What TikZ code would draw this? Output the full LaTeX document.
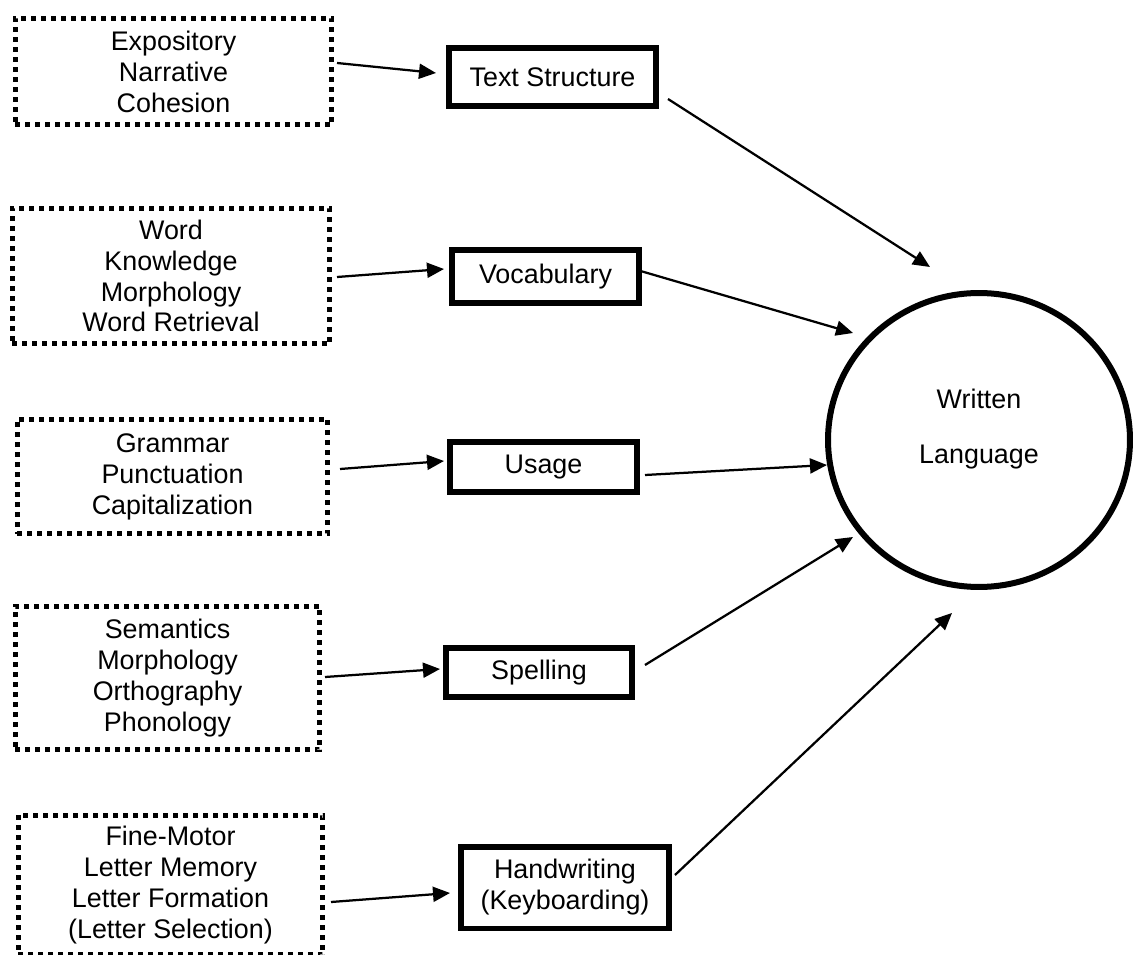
\documentclass[tikz,border=0pt]{standalone}
\usepackage{fontspec}
\setmainfont{Liberation Sans}
\usetikzlibrary{arrows.meta,calc,shapes.geometric}
\begin{document}
\begin{tikzpicture}[x=0.02cm,y=-0.02cm,
  txt/.style={font=\fontsize{15.3}{17.6}\selectfont, align=center, inner sep=0pt},
  dotbox/.style={txt, draw, line width=0.1cm, dash pattern=on 0.1cm off 0.1cm},
  solidbox/.style={txt, draw, line width=0.12cm},
  arr/.style={line width=0.045cm, -{Triangle[length=0.34cm,width=0.3cm]}}]
\useasboundingbox (0,0) rectangle (1138,955);
% source boxes
\node[dotbox, minimum width=6.34cm, minimum height=2.14cm] (d1) at (173.5,71.5) {Expository\\Narrative\\Cohesion};
\node[dotbox, minimum width=6.36cm, minimum height=2.72cm] (d2) at (171,276) {Word\\Knowledge\\Morphology\\Word Retrieval};
\node[dotbox, minimum width=6.22cm, minimum height=2.30cm] (d3) at (172.5,476.5) {Grammar\\Punctuation\\Capitalization};
\node[dotbox, minimum width=6.10cm, minimum height=2.88cm] (d4) at (167.5,678) {Semantics\\Morphology\\Orthography\\Phonology};
\node[dotbox, minimum width=6.10cm, minimum height=2.80cm] (d5) at (170.5,885) {Fine-Motor\\Letter Memory\\Letter Formation\\(Letter Selection)};
% skill boxes
\node[solidbox, minimum width=4.16cm, minimum height=1.16cm] (ts) at (552.5,77.5) {Text Structure};
\node[solidbox, minimum width=3.76cm, minimum height=1.08cm] (vo) at (545.5,276.5) {Vocabulary};
\node[solidbox, minimum width=3.76cm, minimum height=1.02cm] (us) at (543.5,467) {Usage};
\node[solidbox, minimum width=3.74cm, minimum height=1.0cm] (sp) at (539,672.5) {Spelling};
\node[solidbox, minimum width=4.18cm, minimum height=1.64cm] (hw) at (565,887.5) {Handwriting\\(Keyboarding)};
% written language
\node[draw, ellipse, line width=0.12cm, inner sep=0pt, minimum width=6.04cm, minimum height=5.88cm] (wl) at (979,440) {};
\node[txt] (wlt) at (979,429.5) {Written\\[13.7pt]Language};
% left connectors
\draw[arr] ($(d1.center)+(163.5,-8.5)$) -- ($(ts.center)+(-116.5,-4.5)$);
\draw[arr] ($(d2.center)+(166,1)$) -- ($(vo.center)+(-101.5,-7.5)$);
\draw[arr] ($(d3.center)+(167.5,-7.5)$) -- ($(us.center)+(-99.5,-6)$);
\draw[arr] ($(d4.center)+(157.5,-1)$) -- ($(sp.center)+(-99,-3.5)$);
\draw[arr] ($(d5.center)+(160.5,17)$) -- ($(hw.center)+(-115,5.5)$);
% right connectors
\draw[arr] ($(ts.center)+(115.5,21.5)$) -- ($(wl.center)+(-49,-173)$);
\draw[arr] ($(vo.center)+(95,-5.5)$) -- ($(wl.center)+(-126,-107)$);
\draw[arr] ($(us.center)+(101.5,8)$) -- ($(wl.center)+(-152,25)$);
\draw[arr] ($(sp.center)+(106,-7.5)$) -- ($(wl.center)+(-126,97)$);
\draw[arr] ($(hw.center)+(110,-12.5)$) -- ($(wl.center)+(-27,173)$);
\end{tikzpicture}
\end{document}
